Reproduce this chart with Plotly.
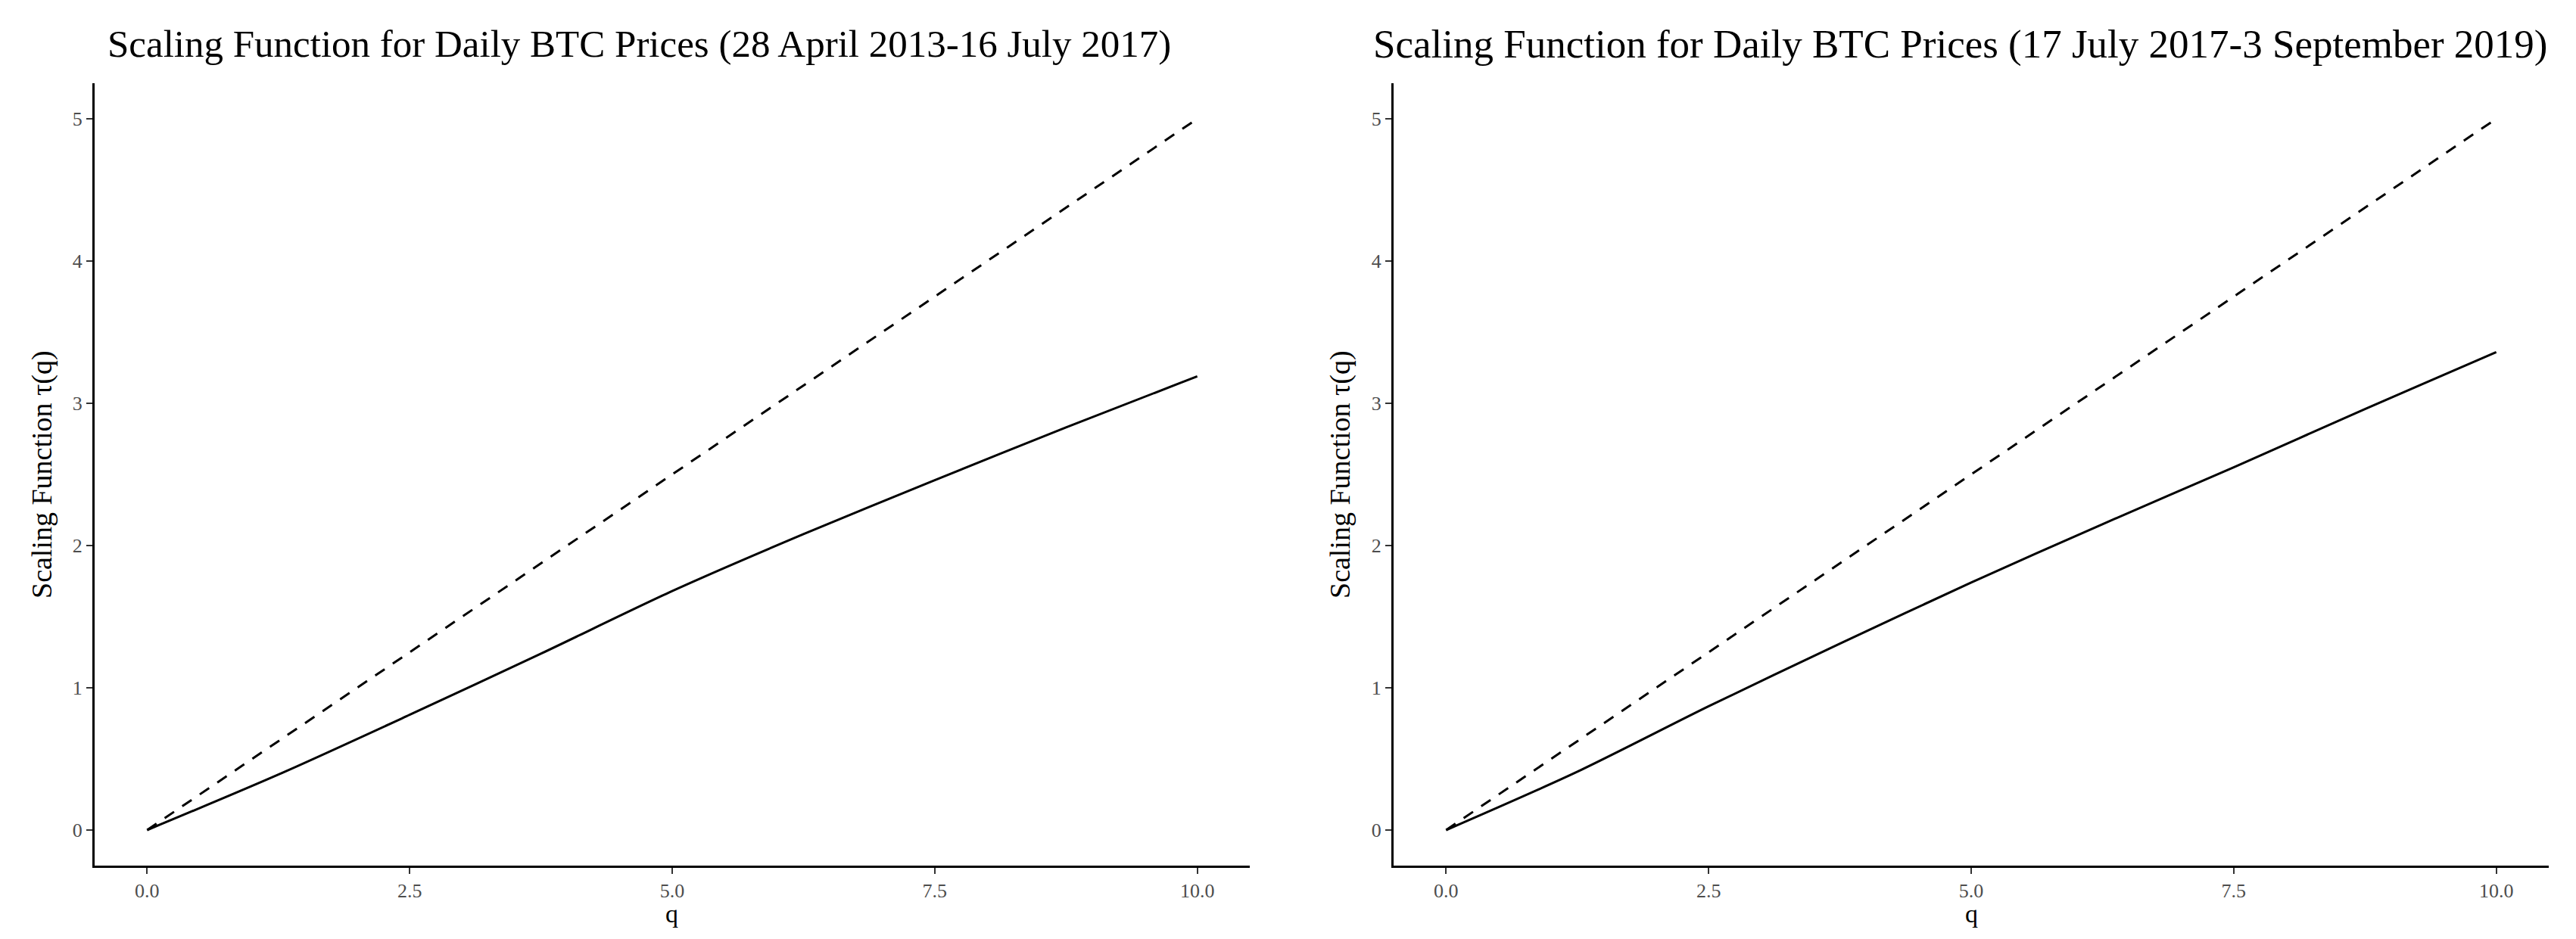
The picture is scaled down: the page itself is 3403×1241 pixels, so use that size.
import plotly.graph_objects as go

q_vals = [0, 1.25, 2.5, 3.75, 5, 6.25, 7.5, 8.75, 10]
tau_left = [0, 0.39, 0.81, 1.24, 1.68, 2.08, 2.46, 2.83, 3.19]
tau_right = [0, 0.41, 0.87, 1.31, 1.74, 2.15, 2.55, 2.96, 3.36]
ref_q = [0, 10]
ref_tau = [0, 5]

titles = ["Scaling Function for Daily BTC Prices (28 April 2013-16 July 2017)",
          "Scaling Function for Daily BTC Prices (17 July 2017-3 September 2019)"]
x_ticks = [0, 2.5, 5, 7.5, 10]
x_ticktext = ["0.0", "2.5", "5.0", "7.5", "10.0"]
y_ticks = [0, 1, 2, 3, 4, 5]
y_label = "Scaling Function \u03c4(q)"
x_label = "q"

W, H = 3403, 1241
FONT = "Liberation Serif"

fig = go.Figure()
for i, tau in enumerate([tau_left, tau_right]):
    xa = "x" if i == 0 else "x2"
    ya = "y" if i == 0 else "y2"
    fig.add_trace(go.Scatter(x=ref_q, y=ref_tau, mode="lines", xaxis=xa, yaxis=ya,
                             line=dict(color="black", width=3, dash="15px,13px"),
                             showlegend=False, hoverinfo="skip"))
    fig.add_trace(go.Scatter(x=q_vals, y=tau, mode="lines", xaxis=xa, yaxis=ya,
                             line=dict(color="black", width=3, shape="spline", smoothing=0.8),
                             showlegend=False))

px = lambda p: p / W
py = lambda p: 1 - p / H

ax_common = dict(showgrid=False, zeroline=False, showline=True, linecolor="black", linewidth=3,
                 ticks="outside", ticklen=8, tickwidth=2, tickcolor="#333333",
                 tickfont=dict(family=FONT, size=26, color="#4d4d4d"))

fig.update_layout(
    width=W, height=H, margin=dict(l=0, r=0, t=0, b=0),
    paper_bgcolor="white", plot_bgcolor="white",
    xaxis=dict(domain=[px(117), px(1643)], range=[-0.5, 10.5], tickvals=x_ticks, ticktext=x_ticktext,
               anchor="y", **ax_common),
    yaxis=dict(domain=[py(1136), py(102)], range=[-0.25, 5.25], tickvals=y_ticks, anchor="x", **ax_common),
    xaxis2=dict(domain=[px(1833), px(3359)], range=[-0.5, 10.5], tickvals=x_ticks, ticktext=x_ticktext,
                anchor="y2", **ax_common),
    yaxis2=dict(domain=[py(1136), py(102)], range=[-0.25, 5.25], tickvals=y_ticks, anchor="x2", **ax_common),
)

title_x = [836, 2582]
title_size = [51, 53]
ylab_x = [47, 1762]
xlab_x = [880, 2596]
for i in range(2):
    fig.add_annotation(text=titles[i], x=px(title_x[i]), y=py(50), xref="paper", yref="paper",
                       xanchor="center", yanchor="middle", showarrow=False,
                       font=dict(family=FONT, size=title_size[i], color="black"))
    fig.add_annotation(text=y_label, x=px(ylab_x[i]), y=py(619), xref="paper", yref="paper",
                       xanchor="center", yanchor="middle", showarrow=False, textangle=-90,
                       font=dict(family=FONT, size=38, color="black"))
    fig.add_annotation(text=x_label, x=px(xlab_x[i]), y=py(1199), xref="paper", yref="paper",
                       xanchor="center", yanchor="middle", showarrow=False,
                       font=dict(family=FONT, size=34, color="black"))

fig.write_html("out.html")
